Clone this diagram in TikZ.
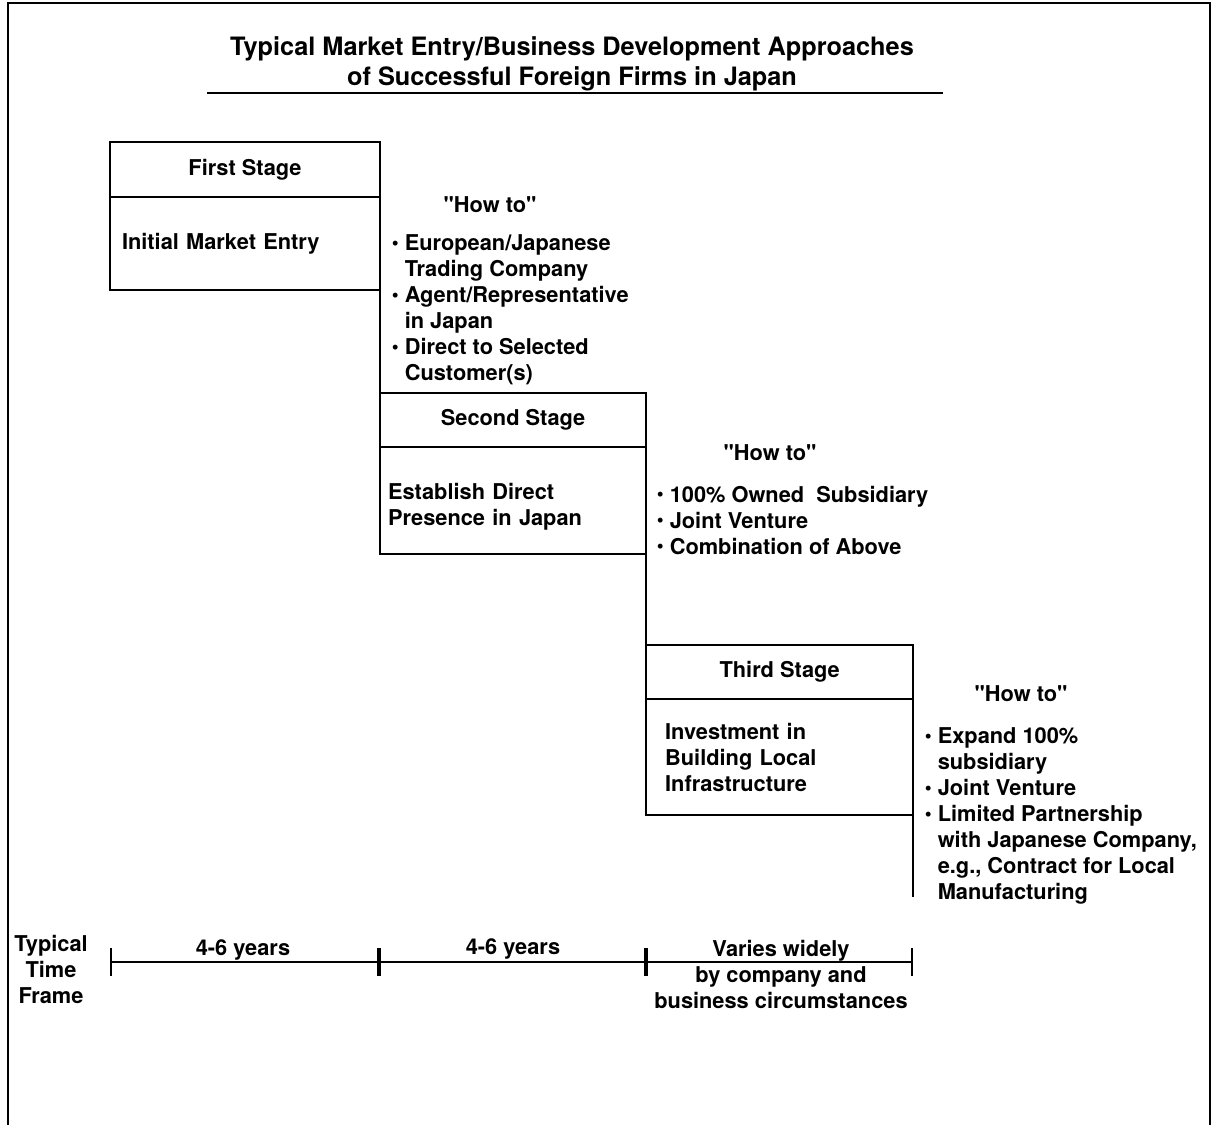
\documentclass[tikz,border=0pt]{standalone}
\usepackage{fontspec}
\setmainfont[Ligatures=TeXOff]{TeX Gyre Heros}
\usetikzlibrary{positioning, arrows.meta}

\newcommand{\bul}{\raisebox{0.1ex}{\scalebox{0.9}{\textbullet}}\ }
\newcommand{\ind}{\hphantom{\bul}}

\begin{document}
\begin{tikzpicture}[
            x = 0.025cm, y = -0.025cm, % one unit per pixel of the page
            line width = 1.2pt,
            every node/.style = {font = \bfseries\fontsize{15.5}{18.5}\selectfont},
            stagehead/.style = {draw, rectangle, minimum height = 1.35cm, inner sep = 0pt, outer sep = 0pt, anchor = north west},
            stagebody/.style = {draw, rectangle, align = left, outer sep = 0pt, anchor = north},
            howto/.style = {align = left, anchor = north west, inner sep = 0pt},
            span/.style = {{Bar[width=0.7cm]}-{Bar[width=0.7cm]}}
        ]
        \useasboundingbox (0,0) rectangle (1214,1125);

        % page frame, open at the bottom
        \draw (8,1125) -- (8,3) -- (1210,3) -- (1210,1125);

        % title
        \node[align = center, font = \bfseries\fontsize{18}{21.3}\selectfont] (title) at (572,64)
            {Typical Market Entry/Business Development Approaches\\of Successful Foreign Firms in Japan};
        \draw (207,93) -- (943,93);

        % stages
        \node[stagehead, minimum width = 6.75cm, minimum height = 1.375cm] (s1h) at (110,142) {First Stage};
        \node[stagebody, minimum height = 2.325cm, text width = 6.15cm, inner xsep = 0.3cm] (s1b) at (s1h.south) {Initial Market Entry};

        \node[stagehead, minimum width = 6.65cm] (s2h) at ([yshift=-2.575cm]s1b.south east) {Second Stage};
        \node[stagebody, minimum height = 2.675cm, text width = 6.25cm, inner xsep = 0.2cm] (s2b) at (s2h.south) {\rule{0pt}{21pt}Establish Direct\\Presence in Japan};

        \node[stagehead, minimum width = 6.675cm] (s3h) at ([yshift=-2.275cm]s2b.south east) {Third Stage};
        \node[stagebody, minimum height = 2.9cm, text width = 5.725cm, inner xsep = 0.475cm] (s3b) at (s3h.south) {Investment in\\Building Local\\Infrastructure};

        \coordinate (end3) at (s3b.south east |- 0,897);
        \draw (s1b.south east) -- (s2h.north west);
        \draw (s2b.south east) -- (s3h.north west);
        \draw (s3b.south east) -- (end3);

        % "how to" lists
        \node (h1) at (490,205) {"How to"};
        \node[howto] (l1) at (391,234) {\bul European/Japanese\\\ind Trading Company\\\bul Agent/Representative\\\ind in Japan\\\bul Direct to Selected\\\ind Customer(s)};

        \node (h2) at (770,453) {"How to"};
        \node[howto] (l2) at (656,485) {\bul 100\% Owned\ \ Subsidiary\\\bul Joint Venture\\\bul Combination of Above};

        \node (h3) at (1021,694) {"How to"};
        \node[howto] (l3) at (924,727) {\bul Expand 100\%\\\ind subsidiary\\\bul Joint Venture\\\bul Limited Partnership\\\ind with Japanese Company,\\\ind e.g., Contract for Local\\\ind Manufacturing};

        % time frame
        \node[align = center] (tf) at (51,969) {Typical\\Time\\Frame};
        \coordinate (t0) at (110,962);
        \coordinate (t1) at (379,962);
        \coordinate (t2) at (646,962);
        \coordinate (t3) at (913,962);
        \draw[span] (t0) -- (t1);
        \draw[span] (t1) -- (t2);
        \draw[span] (t2) -- (t3);
        \node (y1) at (243,950) {4-6 years};
        \node (y2) at (513,949) {4-6 years};
        \node[align = center] (y3) at (781,974) {Varies widely\\by company and\\business circumstances};
    \end{tikzpicture}
\end{document}
